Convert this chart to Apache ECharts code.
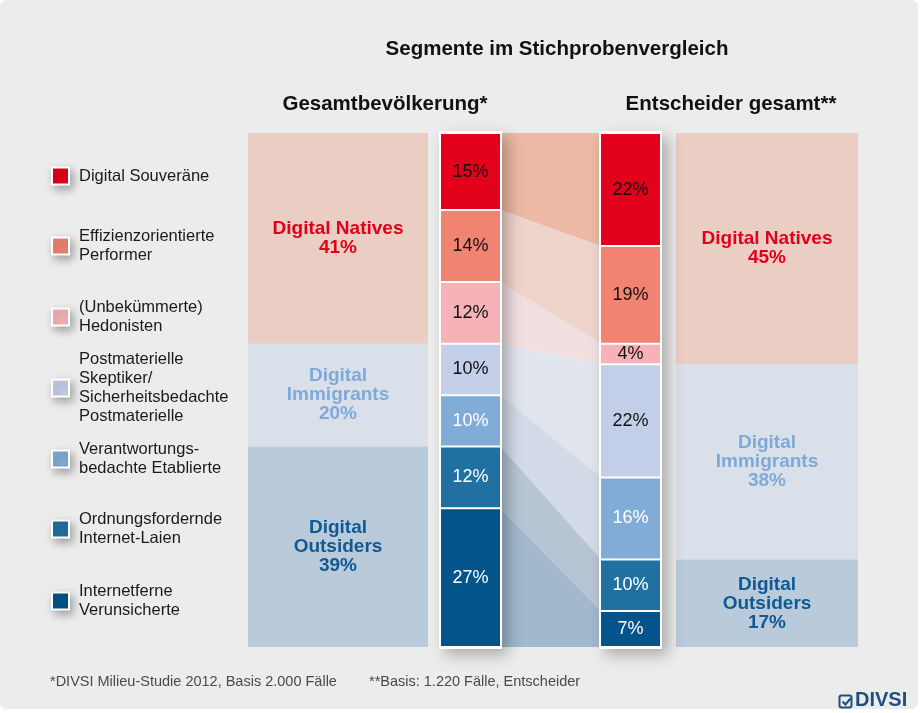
<!DOCTYPE html>
<html>
<head>
<meta charset="utf-8">
<script src="https://cdn.jsdelivr.net/npm/echarts@6/dist/echarts.min.js"></script>
<style>
html,body{margin:0;padding:0;background:#ffffff;}
#chart{width:918px;height:709px;border-radius:7px;overflow:hidden;background:#ececec;}
</style>
</head>
<body>
<div id="chart"></div>
<script>
// ---- data ----
const categories = ['Digital Souveräne','Effizienzorientierte Performer','(Unbekümmerte) Hedonisten','Postmaterielle Skeptiker/ Sicherheitsbedachte Postmaterielle','Verantwortungsbedachte Etablierte','Ordnungsfordernde Internet-Laien','Internetferne Verunsicherte'];
const legendLabels = ['Digital Souveräne','Effizienzorientierte\nPerformer','(Unbekümmerte)\nHedonisten','Postmaterielle\nSkeptiker/\nSicherheitsbedachte\nPostmaterielle','Verantwortungs-\nbedachte Etablierte','Ordnungsfordernde\nInternet-Laien','Internetferne\nVerunsicherte'];
const gesamt = [15, 14, 12, 10, 10, 12, 27];
const entscheider = [22, 19, 4, 22, 16, 10, 7];
const groupNames = ['Digital Natives', 'Digital Immigrants', 'Digital Outsiders'];
const groupLabels = ['Digital Natives', 'Digital\nImmigrants', 'Digital\nOutsiders'];
const groupGesamt = [41, 20, 39];
const groupEntscheider = [45, 38, 17];
const columnTitles = ['Gesamtbevölkerung*', 'Entscheider gesamt**'];
const chartTitle = 'Segmente im Stichprobenvergleich';
const footnotes = ['*DIVSI Milieu-Studie 2012, Basis 2.000 Fälle', '**Basis: 1.220 Fälle, Entscheider'];

// ---- styles / layout ----
const segColors = ['#e2001a','#f08372','#f6b2b6','#c3cfe8','#82acd8','#2170a2','#02548a'];
const segText = ['#111','#111','#111','#111','#fff','#fff','#fff'];
const bandColors = ['#ecb9a4','#efd4cb','#f1dfe0','#e0e4ec','#d2dbe7','#b6c4d4','#a1b8cd'];
const blockColors = ['#eacdc3','#d9e0ea','#b9cadb'];
const blockText = ['#e2001a','#7fa9d9','#0f5a92'];
const FONT = '"Liberation Sans", Arial, sans-serif';
// x positions in axis units (pixels from grid left)
const L = {blockL:[0,180], colL:[193,252], colR:[353,412], blockR:[428,610]};

function cum(arr){ let s=0; return arr.map(v=>{const st=s; s+=v; return st;}); }
const gStart = cum(gesamt), eStart = cum(entscheider);
const ggStart = cum(groupGesamt), geStart = cum(groupEntscheider);

const blockData = [];
groupGesamt.forEach((v,i)=>blockData.push([L.blockL[0],L.blockL[1],ggStart[i],v,i]));
groupEntscheider.forEach((v,i)=>blockData.push([L.blockR[0],L.blockR[1],geStart[i],v,i]));

const bandData = gesamt.map((v,i)=>[L.colL[1],L.colR[0],gStart[i],v,eStart[i],entscheider[i],i]);

const segData = [];
gesamt.forEach((v,i)=>segData.push([L.colL[0],L.colL[1],gStart[i],v,i]));
entscheider.forEach((v,i)=>segData.push([L.colR[0],L.colR[1],eStart[i],v,i]));

const frameData = [[L.colL[0],L.colL[1]],[L.colR[0],L.colR[1]]];

const chart = echarts.init(document.getElementById('chart'), null, {renderer:'canvas'});

function blockItem(params, api){
  const p0 = api.coord([api.value(0), api.value(2)]);
  const p1 = api.coord([api.value(1), api.value(2)+api.value(3)]);
  const gi = api.value(4);
  const pct = api.value(3);
  return {type:'group', children:[
    {type:'rect', shape:{x:p0[0], y:p0[1], width:p1[0]-p0[0], height:p1[1]-p0[1]}, style:{fill:blockColors[gi]}},
    {type:'text', style:{text: groupLabels[gi]+'\n'+pct+'%', x:(p0[0]+p1[0])/2, y:(p0[1]+p1[1])/2,
      align:'center', verticalAlign:'middle', fill:blockText[gi], font:'bold 19px '+FONT, lineHeight:19}}
  ]};
}
function bandItem(params, api){
  const xl = api.value(0), xr = api.value(1);
  const a0 = api.coord([xl, api.value(2)]), a1 = api.coord([xl, api.value(2)+api.value(3)]);
  const b0 = api.coord([xr, api.value(4)]), b1 = api.coord([xr, api.value(4)+api.value(5)]);
  return {type:'polygon', shape:{points:[a0,b0,b1,a1]}, style:{fill:bandColors[api.value(6)]}};
}
function frameItem(params, api){
  const p0 = api.coord([api.value(0), 0]);
  const p1 = api.coord([api.value(1), 100]);
  return {type:'rect', shape:{x:p0[0]-2, y:p0[1]-2, width:p1[0]-p0[0]+4, height:p1[1]-p0[1]+4},
    style:{fill:'#ffffff', shadowColor:'rgba(0,0,0,0.28)', shadowBlur:14, shadowOffsetX:6, shadowOffsetY:6}};
}
function segItem(params, api){
  const p0 = api.coord([api.value(0), api.value(2)]);
  const p1 = api.coord([api.value(1), api.value(2)+api.value(3)]);
  const ci = api.value(4);
  return {type:'group', children:[
    {type:'rect', shape:{x:p0[0], y:p0[1]+1, width:p1[0]-p0[0], height:p1[1]-p0[1]-2}, style:{fill:segColors[ci]}},
    {type:'text', style:{text: api.value(3)+'%', x:(p0[0]+p1[0])/2, y:(p0[1]+p1[1])/2,
      align:'center', verticalAlign:'middle', fill:segText[ci], font:'18px '+FONT}}
  ]};
}

// legend graphics
const legendCenters = [175, 245, 316, 387, 458, 528, 600];
const LH = 18.8;
const legendGraphics = [];
legendLabels.forEach((t,i)=>{
  legendGraphics.push({type:'rect', left:51, top:legendCenters[i]-8.5, shape:{width:17,height:17},
    style:{fill:segColors[i], stroke:'#ffffff', lineWidth:2, shadowColor:'rgba(0,0,0,0.3)', shadowBlur:8, shadowOffsetX:3, shadowOffsetY:4}});
  const lines = t.split('\n').length;
  legendGraphics.push({type:'text', left:79, top:legendCenters[i] - lines*LH/2 + 1,
    style:{text:t, fill:'#1a1a1a', font:'16.5px '+FONT, lineHeight:LH}});
});

const option = {
  backgroundColor:'#ececec',
  animation:false,
  title:[
    {text:chartTitle, left:552, top:34, textAlign:'center', textStyle:{fontFamily:FONT, fontSize:20.5, fontWeight:'bold', color:'#111'}},
    {text:columnTitles[0], left:380, top:89, textAlign:'center', textStyle:{fontFamily:FONT, fontSize:20.5, fontWeight:'bold', color:'#111'}},
    {text:columnTitles[1], left:726, top:89, textAlign:'center', textStyle:{fontFamily:FONT, fontSize:20.5, fontWeight:'bold', color:'#111'}}
  ],
  grid:{left:248, top:133, width:610, height:514},
  xAxis:{type:'value', min:0, max:610, show:false},
  yAxis:{type:'value', min:0, max:100, inverse:true, show:false},
  series:[
    {type:'custom', name:'Gruppen', renderItem:blockItem, data:blockData, silent:true, z:1},
    {type:'custom', name:'Übergänge', renderItem:bandItem, data:bandData, silent:true, z:2},
    {type:'custom', name:'Rahmen', renderItem:frameItem, data:frameData, silent:true, z:3},
    {type:'custom', name:'Segmente', renderItem:segItem, data:segData, silent:true, z:4}
  ],
  graphic:[
    ...legendGraphics,
    {type:'text', left:50, top:674, style:{text:footnotes[0], fill:'#4a4a4a', font:'14.5px '+FONT}},
    {type:'text', left:369, top:674, style:{text:footnotes[1], fill:'#4a4a4a', font:'14.5px '+FONT}},
    {type:'rect', left:837, top:693, shape:{width:12, height:12, r:2}, style:{fill:'none', stroke:'#1e4f7e', lineWidth:2}},
    {type:'polyline', left:840, top:696, shape:{points:[[0,3],[3,6],[8,0]]}, style:{stroke:'#1e4f7e', lineWidth:2, fill:'none'}},
    {type:'text', left:855, top:690, style:{text:'DIVSI', fill:'#1e4f7e', font:'bold 20px '+FONT}}
  ]
};
chart.setOption(option);
</script>
</body>
</html>
